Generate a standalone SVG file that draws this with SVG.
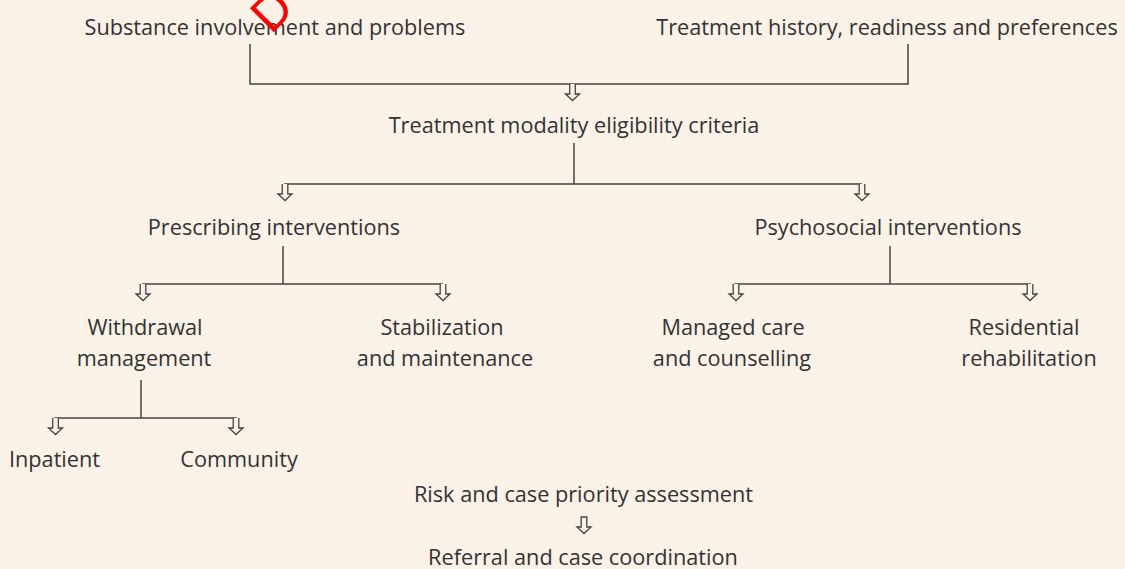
<svg xmlns="http://www.w3.org/2000/svg" width="1125" height="569" viewBox="0 0 1125 569">
<style>
text{font-family:"Open Sans","Noto Sans",sans-serif;font-size:21.7px;fill:#333;text-anchor:middle}
.ln{fill:none;stroke:#444;stroke-width:1.5}
.ar{fill:#faf1e7;stroke:#444;stroke-width:1.3;stroke-linejoin:miter}
</style>
<defs>
<path id="arr" class="ar" d="M-2.8,0 V10 H-7 L0,16.5 L7,10 H2.8 V0"/>
<path id="arrc" class="ar" d="M-2.8,0 V10 H-7 L0,16.5 L7,10 H2.8 V0 Z"/>
</defs>
<rect width="1125" height="569" fill="#faf1e7"/>
<g id="connectors">
<path class="ln" d="M250,44 V84 H908 V44"/>
<use href="#arr" x="572.5" y="84"/>
<path class="ln" d="M574,143 V184 M284,184 H862"/>
<use href="#arr" x="285" y="184"/>
<use href="#arr" x="862" y="184"/>
<path class="ln" d="M283,246 V284 M142,284 H443"/>
<use href="#arr" x="143" y="284"/>
<use href="#arr" x="443" y="284"/>
<path class="ln" d="M890,246 V284 M734,284 H1031"/>
<use href="#arr" x="736" y="284"/>
<use href="#arr" x="1030" y="284"/>
<path class="ln" d="M141,380 V418 M54,418 H237"/>
<use href="#arr" x="55.5" y="418"/>
<use href="#arr" x="236" y="418"/>
<use href="#arrc" x="584" y="517"/>
</g>
<g id="n-substance"><text x="275" y="35">Substance involvement and problems</text></g>
<g id="n-history"><text x="887" y="35">Treatment history, readiness and preferences</text></g>
<g id="n-modality"><text x="574" y="133">Treatment modality eligibility criteria</text></g>
<g id="n-prescribing"><text x="274" y="235">Prescribing interventions</text></g>
<g id="n-psychosocial"><text x="888" y="235">Psychosocial interventions</text></g>
<g id="n-withdrawal"><text x="145" y="335">Withdrawal</text><text x="144" y="366">management</text></g>
<g id="n-stabilization"><text x="442" y="335">Stabilization</text><text x="445" y="366">and maintenance</text></g>
<g id="n-managed"><text x="733" y="335">Managed care</text><text x="732" y="366">and counselling</text></g>
<g id="n-residential"><text x="1024" y="335">Residential</text><text x="1029" y="366">rehabilitation</text></g>
<g id="n-inpatient"><text x="54.5" y="467">Inpatient</text></g>
<g id="n-community"><text x="239" y="467">Community</text></g>
<g id="n-risk"><text x="583.5" y="502">Risk and case priority assessment</text></g>
<g id="n-referral"><text x="583" y="565">Referral and case coordination</text></g>
<g id="mark"><text x="271" y="35" transform="rotate(-45 271 35)" style="fill:#ff0000;font-family:'Liberation Sans',sans-serif;font-size:49px;text-anchor:start">D</text></g>
</svg>
